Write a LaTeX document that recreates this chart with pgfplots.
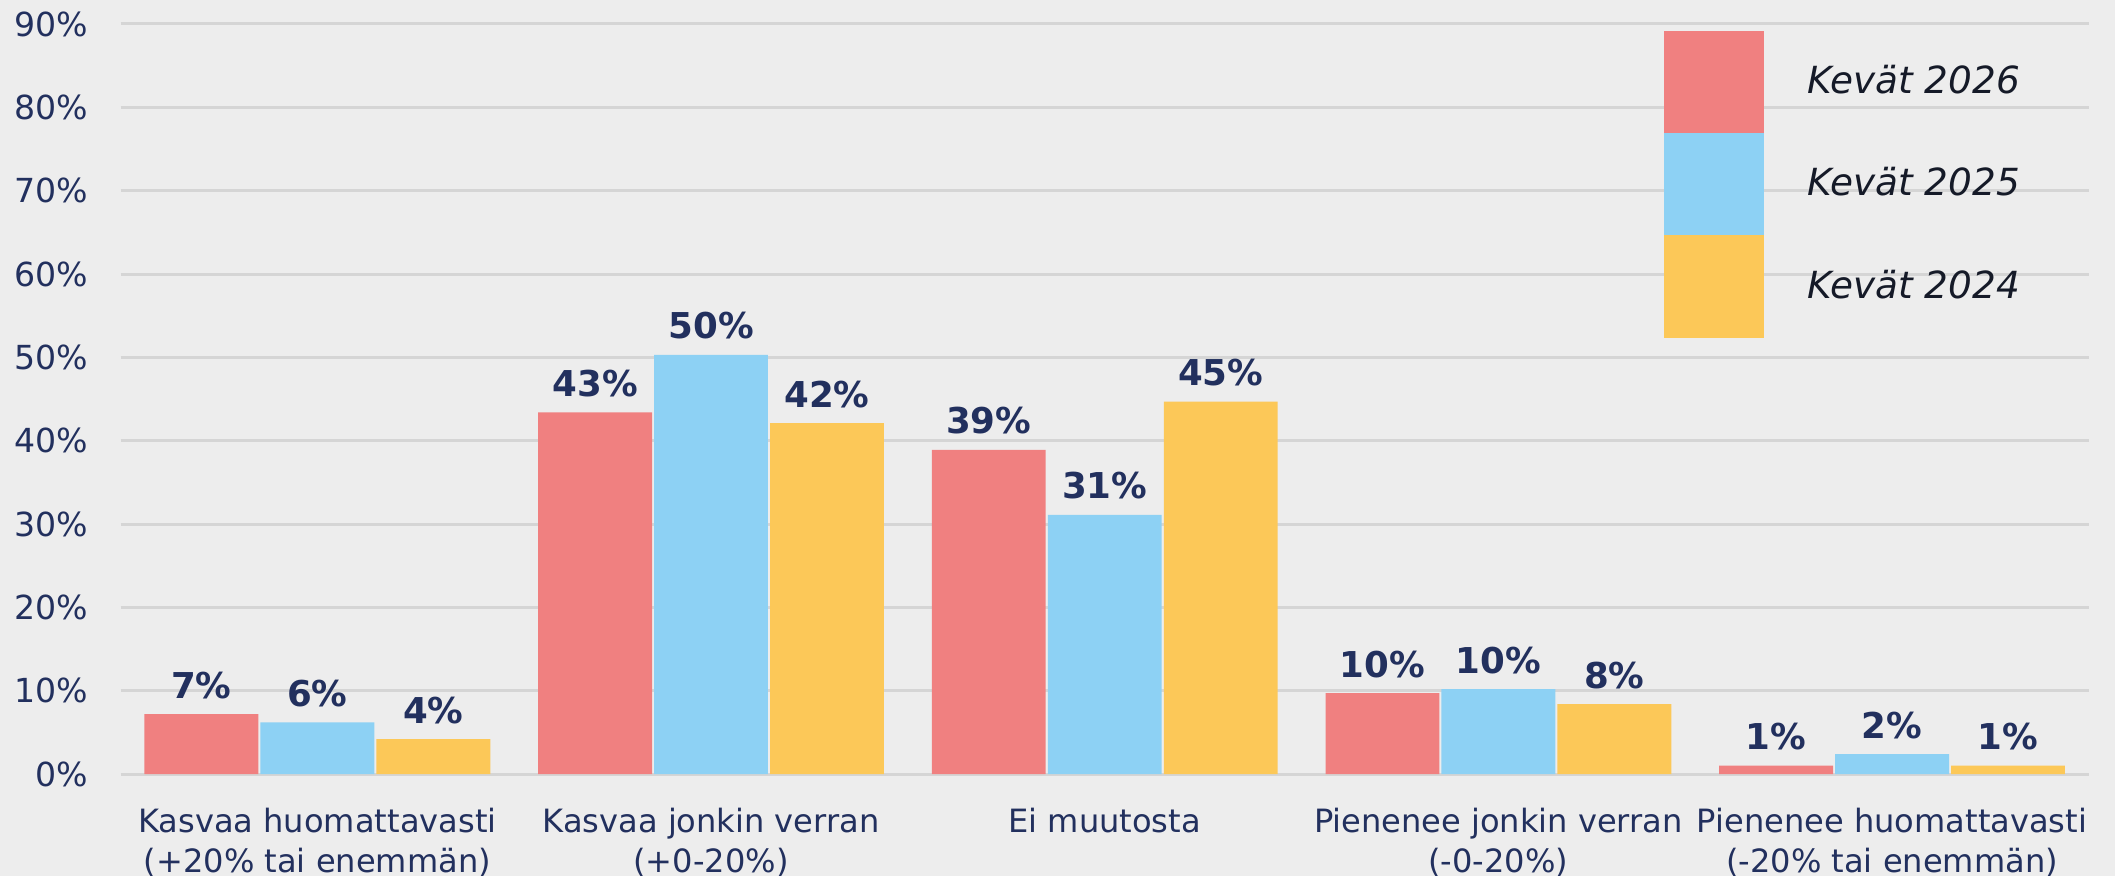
\documentclass[border=0pt]{standalone}
\usepackage{fontspec}
\setmainfont{DejaVu Sans}
\usepackage{pgfplots}
\pgfplotsset{compat=1.18}
\definecolor{bg}{HTML}{EDEDED}
\definecolor{gridc}{HTML}{D5D5D5}
\definecolor{navy}{HTML}{22305E}
\definecolor{legtext}{HTML}{151A28}
\definecolor{cred}{HTML}{F08080}
\definecolor{cblue}{HTML}{8DD1F4}
\definecolor{cyellow}{HTML}{FCC858}
\begin{document}
\begin{tikzpicture}
\fill[bg] (-34.2pt,-28.9pt) rectangle (565.8pt,219.6pt);
\begin{axis}[
  at={(0,0)}, anchor=south west,
  scale only axis,
  width=558.4pt, height=212.8pt,
  xmin=-0.5, xmax=4.5, ymin=0, ymax=90,
  ybar=0.6pt, bar width=32.3pt,
  clip=false,
  axis line style={draw=none},
  tick style={draw=none},
  major tick length=0pt,
  ymajorgrids, grid style={color=gridc, line width=0.85pt},
  ytick={0,10,...,90},
  yticklabel={\pgfmathprintnumber{\tick}\%},
  /pgf/number format/assume math mode=true,
  yticklabel style={anchor=east, inner sep=0pt, xshift=-8.9pt, text=navy, font=\fontsize{9.4}{11}\selectfont},
  xtick={0,1,2,3,4},
  xticklabels={{Kasvaa huomattavasti\\(+20\% tai enemmän)},{Kasvaa jonkin verran\\(+0-20\%)},{Ei muutosta},{Pienenee jonkin verran\\(-0-20\%)},{Pienenee huomattavasti\\(-20\% tai enemmän)}},
  xticklabel style={align=center, anchor=north, inner sep=0pt, yshift=-9.4pt, text=navy, font=\fontsize{9.1}{11.35}\selectfont},
  nodes near coords={\pgfmathprintnumber[fixed,precision=0]{\pgfplotspointmeta}\%},
  every node near coord/.append style={font=\fontsize{10.1}{12}\bfseries\selectfont, text=navy, inner sep=0pt, anchor=south, yshift=4.2pt},
  legend image code/.code={\path[#1,draw=none] (0pt,-14.5pt) rectangle (28.4pt,14.5pt);},
  legend style={at={(0.7842,0.9906)}, anchor=north west, draw=none, fill=none, inner sep=0pt, outer sep=0pt, row sep=0pt, column sep=12.2pt,
    nodes={inner sep=0pt, outer sep=0pt, font=\fontsize{10.6}{12}\itshape\selectfont, text=legtext}},
  legend cell align=left,
]
\addplot[fill=cred, draw=none] coordinates {(0,7.2) (1,43.4) (2,38.9) (3,9.7) (4,1.0)};
\addplot[fill=cblue, draw=none] coordinates {(0,6.2) (1,50.3) (2,31.1) (3,10.2) (4,2.4)};
\addplot[fill=cyellow, draw=none] coordinates {(0,4.2) (1,42.1) (2,44.7) (3,8.4) (4,1.0)};
\legend{Kevät 2026, Kevät 2025, Kevät 2024}
\end{axis}
\pgfresetboundingbox
\path (-34.2pt,-28.9pt) rectangle (565.8pt,219.6pt);
\end{tikzpicture}
\end{document}
